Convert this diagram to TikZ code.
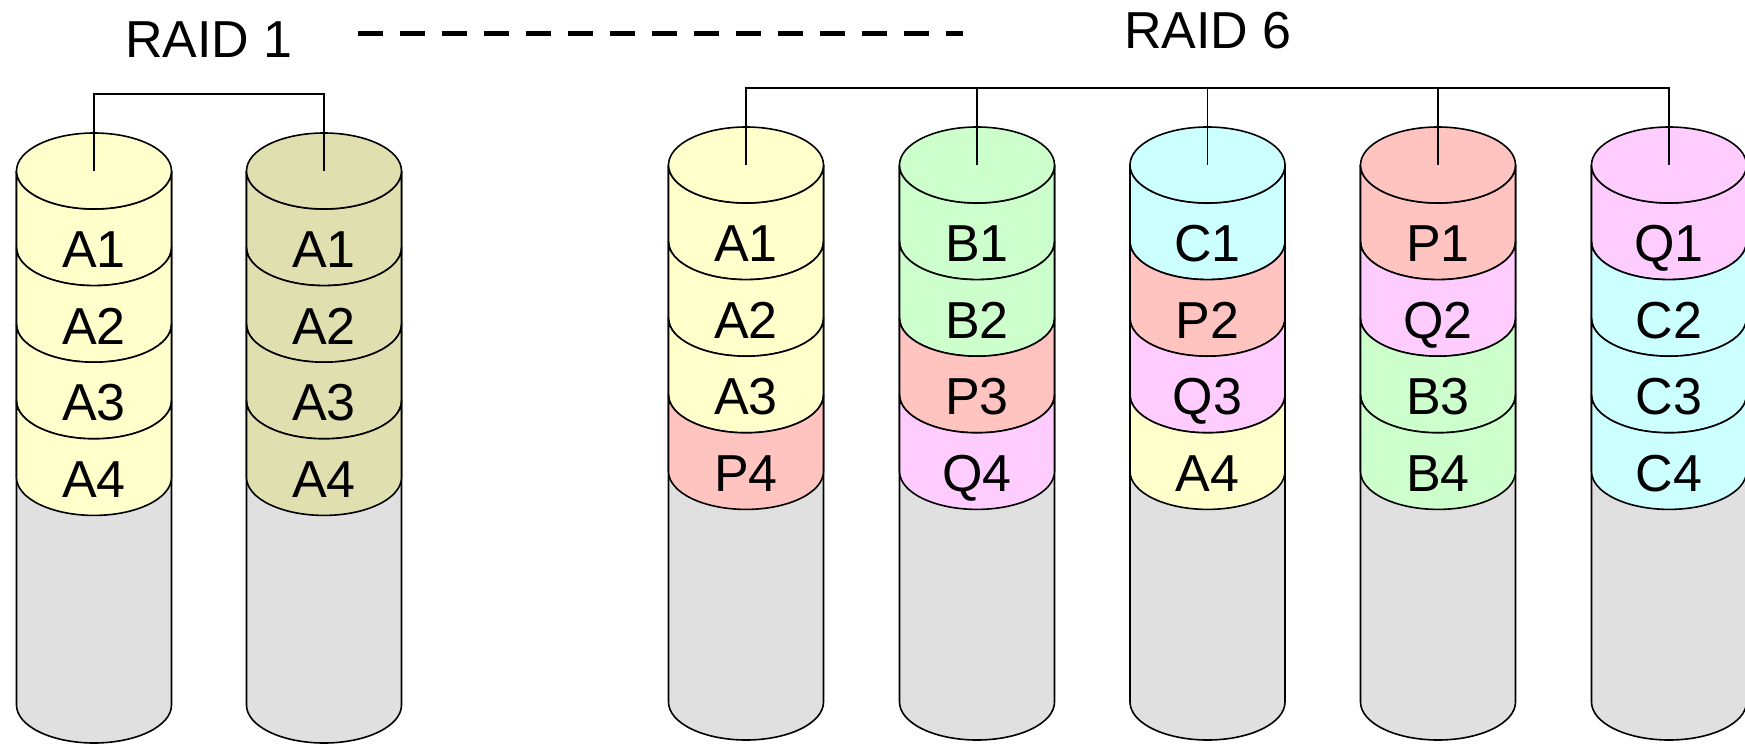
\documentclass[tikz,border=0pt]{standalone}
\usepackage{fontspec}
\setmainfont{Liberation Sans}

\definecolor{clrA}{HTML}{FFFFCC}
\definecolor{clrM}{HTML}{DFDFB0}
\definecolor{clrB}{HTML}{CCFFCC}
\definecolor{clrC}{HTML}{CCFFFF}
\definecolor{clrP}{HTML}{FFC4C0}
\definecolor{clrQ}{HTML}{FFCCFF}
\definecolor{clrFree}{HTML}{E0E0E0}

\tikzset{
	disk/.style={draw=black,line width=1.6pt,line join=round},
	wire/.style={draw=black,line width=1.6pt},
	blocklbl/.style={anchor=base,inner sep=0pt,font=\fontsize{52}{62}\selectfont},
	raidlbl/.style={anchor=base,inner sep=0pt,font=\fontsize{52}{62}\selectfont},
	sepline/.style={line width=5.5pt,dash pattern=on 25pt off 17pt}
}

% #1 x, #2 top centre, #3 bottom centre, #4 name
\newcommand{\diskbody}[4]
{
	\filldraw[disk,fill=clrFree] ({#1-77.5},-#2) -- ({#1-77.5},-#3) arc[start angle=180,end angle=360,x radius=77.5,y radius=38] -- ({#1+77.5},-#2) -- cycle;
	\coordinate (#4) at (#1,-#2)
}

% #1 colour, #2 x, #3 top centre, #4 band, #5 name, #6 label
\newcommand{\diskband}[6]
{
	\filldraw[disk,fill=#1] ({#2-77.5},{-#3-#4*76.6+76.6}) arc[start angle=180,end angle=360,x radius=77.5,y radius=38] -- ({#2+77.5},{-#3-#4*76.6}) arc[start angle=0,end angle=-180,x radius=77.5,y radius=38] -- cycle;
	\node[blocklbl] (#5) at ({#2},{-#3-#4*76.6-19.9}) {#6}
}

% #1 colour, #2 x, #3 top centre
\newcommand{\disktop}[3]
{
	\filldraw[disk,fill=#1] (#2,-#3) ellipse[x radius=77.5,y radius=38]
}

\begin{document}
\begin{tikzpicture}[x=1pt,y=1pt]
	\useasboundingbox (0,0) rectangle (1745,-744);
	
	%%% Titles
	\node[raidlbl] (raid1) at (209,-57) {RAID 1};
	\node[raidlbl] (raid6) at (1208,-48) {RAID 6};
	\coordinate (dash0) at (358,-33.5);
	\coordinate (dash1) at (963,-33.5);
	\draw[sepline] (dash0) -- (dash1);
	
	%%% RAID 1, disk 1
	\diskbody{94}{171}{705}{r1a};
	\diskband{clrA}{94}{171}{1}{r1a1}{A1};
	\diskband{clrA}{94}{171}{2}{r1a2}{A2};
	\diskband{clrA}{94}{171}{3}{r1a3}{A3};
	\diskband{clrA}{94}{171}{4}{r1a4}{A4};
	\disktop{clrA}{94}{171};
	
	%%% RAID 1, disk 2
	\diskbody{324}{171}{705}{r1b};
	\diskband{clrM}{324}{171}{1}{r1b1}{A1};
	\diskband{clrM}{324}{171}{2}{r1b2}{A2};
	\diskband{clrM}{324}{171}{3}{r1b3}{A3};
	\diskband{clrM}{324}{171}{4}{r1b4}{A4};
	\disktop{clrM}{324}{171};
	
	%%% RAID 6, disk 1
	\diskbody{746}{165}{702}{r6a};
	\diskband{clrA}{746}{165}{1}{r6a1}{A1};
	\diskband{clrA}{746}{165}{2}{r6a2}{A2};
	\diskband{clrA}{746}{165}{3}{r6a3}{A3};
	\diskband{clrP}{746}{165}{4}{r6a4}{P4};
	\disktop{clrA}{746}{165};
	
	%%% RAID 6, disk 2
	\diskbody{977}{165}{702}{r6b};
	\diskband{clrB}{977}{165}{1}{r6b1}{B1};
	\diskband{clrB}{977}{165}{2}{r6b2}{B2};
	\diskband{clrP}{977}{165}{3}{r6b3}{P3};
	\diskband{clrQ}{977}{165}{4}{r6b4}{Q4};
	\disktop{clrB}{977}{165};
	
	%%% RAID 6, disk 3
	\diskbody{1207.5}{165}{702}{r6c};
	\diskband{clrC}{1207.5}{165}{1}{r6c1}{C1};
	\diskband{clrP}{1207.5}{165}{2}{r6c2}{P2};
	\diskband{clrQ}{1207.5}{165}{3}{r6c3}{Q3};
	\diskband{clrA}{1207.5}{165}{4}{r6c4}{A4};
	\disktop{clrC}{1207.5}{165};
	
	%%% RAID 6, disk 4
	\diskbody{1438}{165}{702}{r6d};
	\diskband{clrP}{1438}{165}{1}{r6d1}{P1};
	\diskband{clrQ}{1438}{165}{2}{r6d2}{Q2};
	\diskband{clrB}{1438}{165}{3}{r6d3}{B3};
	\diskband{clrB}{1438}{165}{4}{r6d4}{B4};
	\disktop{clrP}{1438}{165};
	
	%%% RAID 6, disk 5
	\diskbody{1669}{165}{702}{r6e};
	\diskband{clrQ}{1669}{165}{1}{r6e1}{Q1};
	\diskband{clrC}{1669}{165}{2}{r6e2}{C2};
	\diskband{clrC}{1669}{165}{3}{r6e3}{C3};
	\diskband{clrC}{1669}{165}{4}{r6e4}{C4};
	\disktop{clrQ}{1669}{165};
	
	%%%%%%%%% WIRING
	\coordinate (bus1) at (209,-94);
	\draw[wire] (r1a) |- (bus1) -| (r1b);
	
	\coordinate (bus6) at (1208,-88);
	\draw[wire] (r6a) |- (bus6) -| (r6e);
	\draw[wire] (r6b) -- (r6b |- bus6);
	\draw[wire] (r6c) -- (r6c |- bus6);
	\draw[wire] (r6d) -- (r6d |- bus6);
\end{tikzpicture}
\end{document}
